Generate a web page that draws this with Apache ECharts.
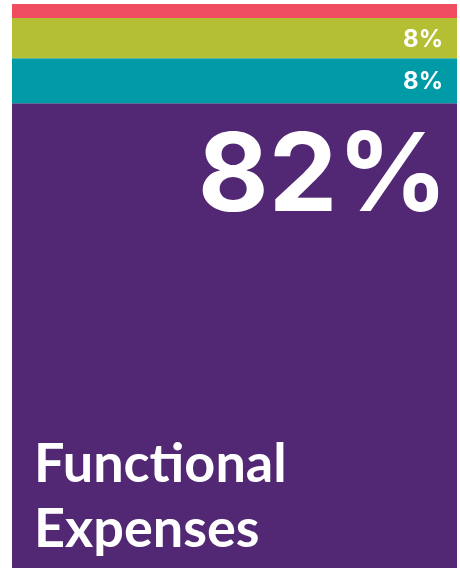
<!DOCTYPE html>
<html><head><meta charset="utf-8">
<script src="https://cdn.jsdelivr.net/npm/echarts@6/dist/echarts.min.js"></script>
<style>html,body{margin:0;padding:0;background:#fff}#c{width:460px;height:568px}</style>
</head><body><div id="c"></div>
<script>
var categories = ['Total'];
var seriesNames = ['Functional Expenses', 'Segment B', 'Segment C', 'Segment D'];
var values = [82.4, 8.0, 7.1, 2.5];
var labelTexts = ['82%', '8%', '8%', ''];
var colors = ['#522874', '#019BA8', '#B5BF34', '#F04E60'];

var total = values.reduce(function(a,b){return a+b;},0);
var chart = echarts.init(document.getElementById('c'));
var series = values.map(function(v,i){
  var lab;
  if (i === 0) {
    lab = {show:true, position:'insideTopRight', distance:0, offset:[-9, 20], formatter: labelTexts[i],
      color:'#fff', fontFamily:'Inter', fontWeight:'bold', fontSize:109};
  } else {
    lab = {show: labelTexts[i] !== '', position:'insideRight', distance:14, offset:[0, 1.5], formatter: labelTexts[i],
      color:'#fff', fontFamily:'Inter', fontWeight:'bold', fontSize:24};
  }
  return {name: seriesNames[i], type:'bar', stack:'s', barWidth:'100%', data:[v],
    itemStyle:{color: colors[i]}, label: lab, silent:true};
});
chart.setOption({
  animation:false,
  grid:{left:12, right:3, top:4, bottom:0},
  title:{text:'Functional\nExpenses', left:29, bottom:1,
    textStyle:{color:'#fff', fontFamily:'Lato', fontWeight:'bold', fontSize:54, lineHeight:65}},
  xAxis:{type:'category', data:categories, show:false, boundaryGap:true},
  yAxis:{type:'value', min:0, max:total, show:false},
  series: series
});
</script></body></html>
